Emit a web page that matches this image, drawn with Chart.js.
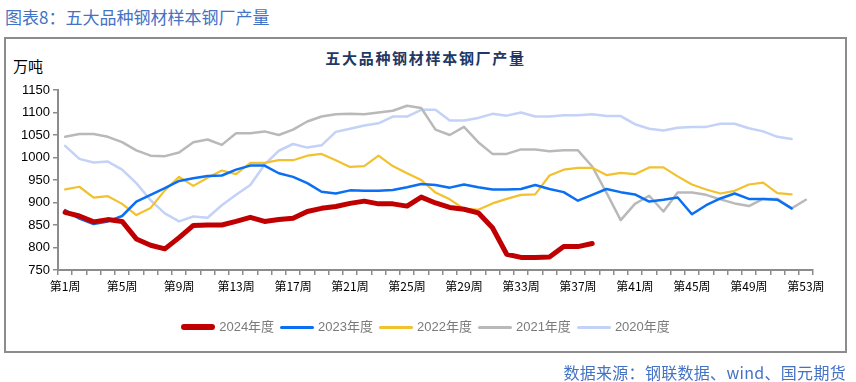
<!DOCTYPE html>
<html>
<head>
<meta charset="utf-8">
<script src="https://cdn.jsdelivr.net/npm/chart.js@4.4.0/dist/chart.umd.min.js"></script>
<style>
body { margin: 0; width: 856px; height: 382px; background: #fff; position: relative; overflow: hidden; font-family: "Noto Sans CJK SC", sans-serif; }
#head { position: absolute; left: 5px; top: 6px; font-size: 17px; line-height: 22px; color: #4472c4; white-space: nowrap; }
#frame { position: absolute; left: 4px; top: 37px; width: 839px; height: 312px; border: 2px solid #8c8c8c; }
#title { position: absolute; left: 4px; width: 843px; top: 47px; text-align: center; font-size: 15px; line-height: 22px; font-weight: bold; letter-spacing: 1.7px; color: #1f3864; }
#unit { position: absolute; left: 13px; top: 56px; font-size: 15px; line-height: 20px; color: #000; }
#legend { position: absolute; left: 4px; width: 843px; top: 318px; display: flex; justify-content: center; font-family: "Liberation Sans", "Noto Sans CJK SC", sans-serif; font-size: 13px; color: #7a7a7a; }
#legend .item { display: flex; align-items: center; margin: 0 3px; }
#legend .mark { width: 34px; margin-right: 4px; border-radius: 3px; }
#legend span { line-height: 18px; }
#source { position: absolute; right: 10px; top: 361px; font-size: 16px; line-height: 22px; letter-spacing: 0.3px; color: #4472c4; white-space: nowrap; }
#wrap { position: absolute; left: 0; top: 0; }
</style>
</head>
<body>
<div id="head">图表8：五大品种钢材样本钢厂产量</div>
<div id="frame"></div>
<div id="title">五大品种钢材样本钢厂产量</div>
<div id="unit">万吨</div>
<div id="wrap"><canvas id="cht" width="856" height="382"></canvas></div>
<div id="legend"></div>
<div id="source">数据来源：钢联数据、wind、国元期货</div>
<script>
"use strict";

var weeks = ["第1周", "第2周", "第3周", "第4周", "第5周", "第6周", "第7周", "第8周", "第9周", "第10周",
	"第11周", "第12周", "第13周", "第14周", "第15周", "第16周", "第17周", "第18周", "第19周", "第20周",
	"第21周", "第22周", "第23周", "第24周", "第25周", "第26周", "第27周", "第28周", "第29周", "第30周",
	"第31周", "第32周", "第33周", "第34周", "第35周", "第36周", "第37周", "第38周", "第39周", "第40周",
	"第41周", "第42周", "第43周", "第44周", "第45周", "第46周", "第47周", "第48周", "第49周", "第50周",
	"第51周", "第52周", "第53周"];

var seriesNames = ["2024年度", "2023年度", "2022年度", "2021年度", "2020年度"];

var y2024 = [878, 870, 857, 862, 858, 819, 805, 797, 822, 849, 850, 850, 858, 867, 858, 862, 865, 880, 887, 891,
	898, 903, 897, 897, 892, 912, 899, 889, 885, 877, 844, 785, 778, 778, 779, 802, 802, 809];

var y2023 = [883, 864, 852, 858, 870, 902, 917, 932, 948, 954, 959, 960, 973, 982, 982, 965, 957, 943, 924, 920,
	927, 926, 926, 928, 934, 941, 939, 933, 940, 934, 929, 929, 930, 939, 930, 923, 904, 917, 930, 923,
	918, 902, 906, 911, 874, 894, 909, 920, 908, 908, 906, 887];

var y2022 = [929, 935, 911, 914, 897, 872, 888, 927, 957, 937, 955, 971, 963, 988, 988, 994, 994, 1004, 1008, 994,
	979, 981, 1004, 981, 965, 950, 922, 907, 886, 884, 898, 908, 917, 918, 960, 973, 977, 977, 961, 966,
	963, 978, 978, 958, 940, 929, 920, 926, 940, 944, 921, 918];

var y2021 = [1046, 1052, 1052, 1046, 1034, 1016, 1004, 1003, 1011, 1034, 1040, 1028, 1054, 1054, 1058, 1050, 1062, 1080, 1091, 1096,
	1097, 1096, 1100, 1104, 1115, 1110, 1062, 1050, 1068, 1034, 1008, 1008, 1018, 1018, 1014, 1016, 1016, 980, 922, 861,
	897, 915, 880, 922, 922, 917, 907, 898, 892, 908, 908, 887, 906];

var y2020 = [1026, 997, 989, 991, 973, 943, 905, 876, 858, 869, 866, 894, 917, 939, 984, 1015, 1030, 1022, 1027, 1057,
	1064, 1071, 1076, 1091, 1091, 1106, 1106, 1082, 1082, 1088, 1097, 1093, 1100, 1091, 1091, 1094, 1094, 1096, 1092, 1092,
	1074, 1064, 1060, 1066, 1068, 1068, 1075, 1075, 1065, 1058, 1046, 1041];

var colors = ["#c00000", "#0a6ff2", "#f2c12e", "#b9b9b9", "#c3d2f6"];
var widths = [5, 2.5, 2.2, 2.5, 2.5];
var allData = [y2024, y2023, y2022, y2021, y2020];

var axisGray = "#8c8c8c";
var cjkFont = "'Noto Sans CJK SC', sans-serif";

function buildDatasets() {
	var sets = [];
	for (var i = 0; i < allData.length; i++) {
		sets.push({
			label: seriesNames[i],
			data: allData[i],
			borderColor: colors[i],
			backgroundColor: colors[i],
			borderWidth: widths[i],
			pointRadius: 0,
			tension: 0,
			fill: false,
			borderJoinStyle: "round",
			borderCapStyle: "round"
		});
	}
	return sets;
}

function buildLegend() {
	var box = document.getElementById("legend");
	for (var i = 0; i < seriesNames.length; i++) {
		var item = document.createElement("div");
		item.className = "item";
		var mark = document.createElement("div");
		mark.className = "mark";
		mark.style.height = (i == 0 ? 6 : 3) + "px";
		mark.style.background = colors[i];
		var txt = document.createElement("span");
		txt.textContent = seriesNames[i];
		item.appendChild(mark);
		item.appendChild(txt);
		box.appendChild(item);
	}
}

var chart = new Chart(document.getElementById("cht").getContext("2d"), {
	type: "line",
	data: {
		labels: weeks,
		datasets: buildDatasets()
	},
	options: {
		responsive: false,
		animation: false,
		layout: { padding: { left: 0, top: 90, right: 43, bottom: 0 } },
		plugins: {
			legend: { display: false },
			tooltip: { enabled: false }
		},
		scales: {
			x: {
				offset: true,
				grid: { offset: true, drawOnChartArea: false, drawTicks: true, tickLength: 5, color: axisGray, lineWidth: 1.5 },
				border: { color: axisGray, width: 2 },
				ticks: {
					autoSkip: false,
					maxRotation: 0,
					padding: 4,
					color: "#000",
					font: { size: 12, family: cjkFont },
					callback: function (v, i) {
						return i % 4 == 0 ? this.getLabelForValue(v) : "";
					}
				},
				afterFit: function (s) { s.height = 112; }
			},
			y: {
				min: 750,
				max: 1150,
				grid: { drawOnChartArea: false, tickLength: 5, color: axisGray, lineWidth: 1.5 },
				border: { color: axisGray, width: 2 },
				ticks: {
					stepSize: 50,
					padding: 3,
					color: "#000",
					font: { size: 13, family: "'Liberation Sans', Arial, sans-serif" },
					callback: function (v) { return String(v); }
				},
				afterFit: function (s) { s.width = 58; }
			}
		}
	}
});

buildLegend();
</script>
</body>
</html>
